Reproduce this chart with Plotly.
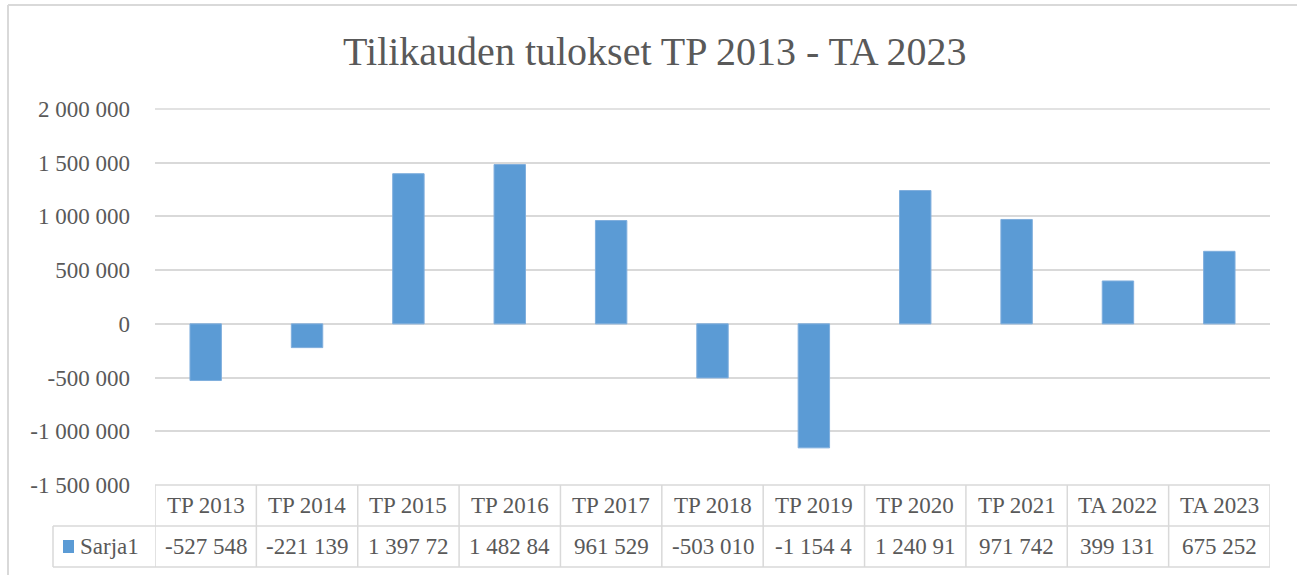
import plotly.graph_objects as go

categories = ["TP 2013", "TP 2014", "TP 2015", "TP 2016", "TP 2017", "TP 2018",
              "TP 2019", "TP 2020", "TP 2021", "TA 2022", "TA 2023"]
values = [-527548, -221139, 1397720, 1482840, 961529, -503010,
          -1154400, 1240910, 971742, 399131, 675252]
series_name = "Sarja1"
y_ticks = [-1500000, -1000000, -500000, 0, 500000, 1000000, 1500000, 2000000]

W, H = 1297, 575
L, R, T, B = 155, 1270, 109, 485
FONT = "Liberation Serif"
TXT = "#595959"
GRID = "#D9D9D9"
BLUE = "#5B9BD5"
FS = 23


def fmt(v):
    s = f"{abs(v):,}".replace(",", " ")
    return ("-" if v < 0 else "") + s


def px(x):
    return (x - L) / (R - L)


def py(y):
    return (B - y) / (B - T)


fig = go.Figure(go.Bar(
    x=list(range(len(categories))),
    y=values,
    marker=dict(color=BLUE, line=dict(color="#7FAEDD", width=1)),
    width=0.31,
    hoverinfo="y",
))

fig.update_layout(
    width=W, height=H,
    margin=dict(l=L, r=W - R, t=T, b=H - B),
    paper_bgcolor="white", plot_bgcolor="white",
    showlegend=False,
    font=dict(family=FONT, color=TXT, size=FS),
)
fig.update_xaxes(range=[-0.5, len(categories) - 0.5], visible=False)
fig.update_yaxes(
    range=[-1500000, 2000000],
    tickvals=y_ticks, ticktext=[fmt(v) for v in y_ticks],
    showgrid=True, gridcolor=GRID, gridwidth=1.5,
    zeroline=True, zerolinecolor=GRID, zerolinewidth=1.5,
    showline=False, ticks="", ticklabelstandoff=24,
    tickfont=dict(family=FONT, color=TXT, size=FS),
)

shapes = []
line = dict(color=GRID, width=1.5)
row1, row2, row3 = 485, 526, 567
# outer chart frame
shapes.append(dict(type="line", xref="paper", yref="paper", x0=px(8), x1=px(W + 5),
                   y0=py(5), y1=py(5), line=dict(color=GRID, width=2)))
shapes.append(dict(type="line", xref="paper", yref="paper", x0=px(8), x1=px(8),
                   y0=py(5), y1=py(H + 5), line=dict(color=GRID, width=2)))
# top gridline and table lines
shapes.append(dict(type="line", xref="paper", yref="paper", x0=0, x1=1,
                   y0=1, y1=1, line=line))
for yy, x0 in [(row1, L), (row2, 53), (row3, 53)]:
    shapes.append(dict(type="line", xref="paper", yref="paper", x0=px(x0), x1=px(R),
                       y0=py(yy), y1=py(yy), line=line))
shapes.append(dict(type="line", xref="paper", yref="paper", x0=px(53), x1=px(53),
                   y0=py(row2), y1=py(row3), line=line))
for i in range(len(categories) + 1):
    shapes.append(dict(type="line", xref="x", yref="paper", x0=i - 0.5, x1=i - 0.5,
                       y0=py(row1), y1=py(row3), line=line))
# legend key
shapes.append(dict(type="rect", xref="paper", yref="paper", x0=px(63), x1=px(74),
                   y0=py(553), y1=py(540), fillcolor=BLUE, line=dict(width=0)))

cell_font = dict(family=FONT, size=FS, color=TXT)
annotations = [dict(text="Tilikauden tulokset TP 2013 - TA 2023", xref="paper", yref="paper",
                    x=px(655), y=py(52), yanchor="middle", showarrow=False,
                    font=dict(family=FONT, size=40, color=TXT))]
annotations.append(dict(text=series_name, xref="paper", yref="paper", x=px(78),
                        y=py((row2 + row3) / 2), xanchor="left", yanchor="middle",
                        showarrow=False, font=cell_font))
for i, (c, v) in enumerate(zip(categories, values)):
    annotations.append(dict(text=c, xref="x", yref="paper", x=i, y=py((row1 + row2) / 2),
                            yanchor="middle", showarrow=False, font=cell_font))
    annotations.append(dict(text=fmt(v)[:8], xref="x", yref="paper", x=i,
                            y=py((row2 + row3) / 2), yanchor="middle",
                            showarrow=False, font=cell_font))

fig.update_layout(shapes=shapes, annotations=annotations)
fig.write_html("out.html", config={"displayModeBar": False},
               post_script="document.body.style.margin='0px';")
